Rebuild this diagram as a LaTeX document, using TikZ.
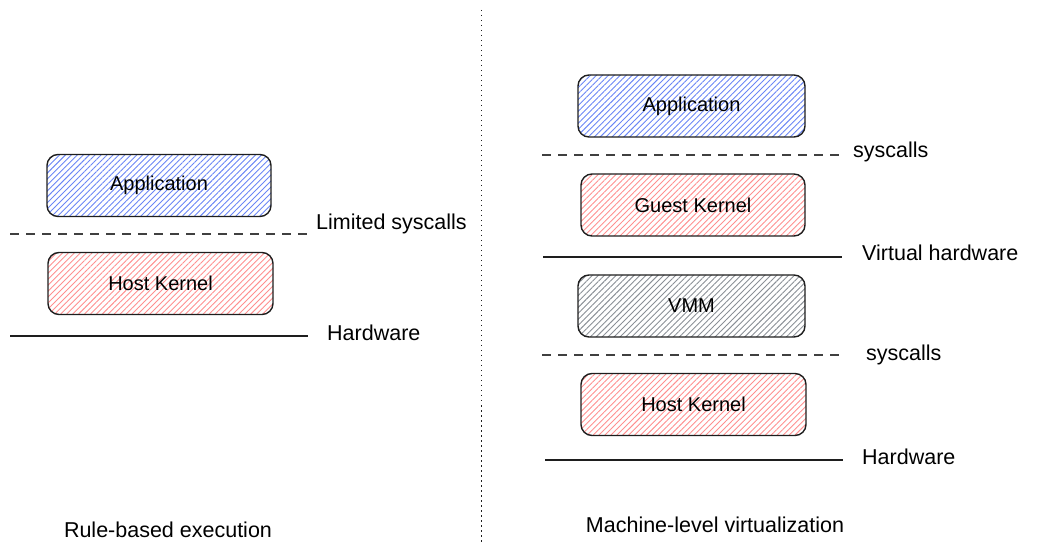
\documentclass[tikz,border=0pt]{standalone}
\usepackage{fontspec}
\setmainfont{Liberation Sans}
\usetikzlibrary{patterns.meta}
\definecolor{ink}{HTML}{1E1E1E}
\definecolor{hblue}{HTML}{6A86F5}
\definecolor{hred}{HTML}{FF8F8F}
\definecolor{hgray}{HTML}{8A8F96}
\tikzset{
  layer/.style={draw=ink, line width=1.4pt, rounded corners=11pt,
    minimum width=#1, minimum height=62pt, inner sep=0pt,
    font=\fontsize{20}{23}\selectfont},
  layer/.default=225pt,
  hatch/.style={pattern={Lines[angle=45,distance=4.2pt,line width=0.9pt]}, pattern color=#1},
  dashline/.style={draw=ink!85, line width=1.2pt, dash pattern=on 9pt off 7pt},
  hwline/.style={draw=ink, line width=1.6pt},
  lbl/.style={anchor=west, font=\fontsize{21.5}{24}\selectfont, inner sep=0pt},
  caption/.style={font=\fontsize{21.5}{24}\selectfont, inner sep=0pt},
}
\begin{document}
\begin{tikzpicture}[x=1pt,y=-1pt]
\useasboundingbox (0,0) rectangle (1037,553);
% divider
\coordinate (dt) at (481,10);
\coordinate (db) at (481,543);
\draw[ink, line width=1pt, dash pattern=on 1.5pt off 3.5pt] (dt) -- (db);

% left side
\node[layer=224pt, hatch=hblue] (lapp) at (159,185.5) {Application};
\node[layer=225pt, hatch=hred] (lhk) at (160.5,283.5) {Host Kernel};
\coordinate (lsa) at (10,234); \coordinate (lsb) at (308,234);
\draw[dashline] (lsa) -- (lsb);
\coordinate (lha) at (10,336); \coordinate (lhb) at (308,336);
\draw[hwline] (lha) -- (lhb);
\node[lbl] (lsys) at (316,224) {Limited syscalls};
\node[lbl] (lhw) at (327,333) {Hardware};
\node[caption] (lcap) at (168,530) {Rule-based execution};

% right side
\node[layer=227pt, hatch=hblue] (rapp) at (691.5,106) {Application};
\node[layer=224pt, hatch=hred] (rgk) at (693,205) {Guest Kernel};
\node[layer=227pt, hatch=hgray] (rvmm) at (691.5,306) {VMM};
\node[layer=225pt, hatch=hred] (rhk) at (693.5,404.5) {Host Kernel};
\coordinate (rs1a) at (542,155); \coordinate (rs1b) at (840,155);
\draw[dashline] (rs1a) -- (rs1b);
\coordinate (rva) at (543,257); \coordinate (rvb) at (842,257);
\draw[draw=ink, line width=1.2pt] (rva) -- (rvb);
\coordinate (rs2a) at (542,355); \coordinate (rs2b) at (840,355);
\draw[dashline] (rs2a) -- (rs2b);
\coordinate (rha) at (545,460); \coordinate (rhb) at (843,460);
\draw[hwline] (rha) -- (rhb);
\node[lbl] (rsys1) at (853,152) {syscalls};
\node[lbl] (rvhw) at (862,253) {Virtual hardware};
\node[lbl] (rsys2) at (866,355) {syscalls};
\node[lbl] (rhw) at (862,457) {Hardware};
\node[caption] (rcap) at (715,525) {Machine-level virtualization};
\end{tikzpicture}
\end{document}
